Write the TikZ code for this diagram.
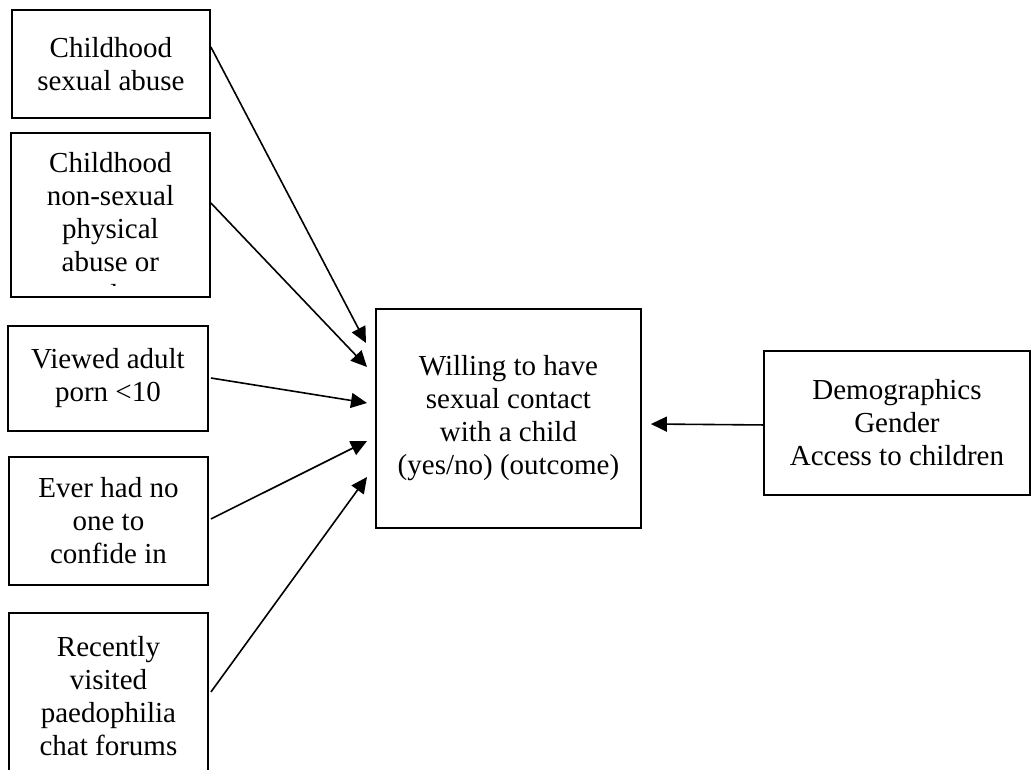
\documentclass[tikz,border=0pt]{standalone}
\usepackage{fontspec}
\setmainfont{Liberation Serif}
\usetikzlibrary{arrows.meta,calc}

\tikzset{
  box/.style={draw, line width=1.9pt, rectangle, inner sep=0pt, anchor=north west,
              align=center, font=\fontsize{29}{33}\selectfont},
  txt/.style={inner sep=0pt, align=center, font=\fontsize{29}{33}\selectfont},
  arr/.style={line width=1.6pt, -{Triangle[length=16pt,width=15pt]}}
}

\begin{document}
\begin{tikzpicture}[x=1pt,y=-1pt]
  \useasboundingbox (0,0) rectangle (1032,769);
  \clip (0,0) rectangle (1032,769);

  % predictor boxes on the left
  \node[box, minimum width=198pt, minimum height=108pt] (b1) at (11,9)
    {Childhood\\sexual abuse};
  \node[box, minimum width=199pt, minimum height=164pt] (b2) at (10,132) {};
  \node[box, minimum width=200pt, minimum height=105pt] (b3) at (7,325)
    {Viewed adult\\porn <10};
  \node[box, minimum width=199pt, minimum height=128pt] (b4) at (8,456)
    {Ever had no\\one to\\confide in};
  \node[box, minimum width=199pt, minimum height=166pt] (b5) at (8,612)
    {Recently\\visited\\paedophilia\\chat forums};

  % overflowing text of the second box, cut off at its lower edge
  \begin{scope}
    \clip (b2.north west) rectangle ($(b2.south east)+(0,-12)$);
    \node[txt, anchor=north] (b2t) at ($(b2.north)+(0,20)$)
      {Childhood\\non-sexual\\physical\\abuse or\\neglect};
  \end{scope}

  % outcome and covariates
  \node[box, minimum width=265pt, minimum height=219pt] (c) at (375,308)
    {Willing to have\\sexual contact\\with a child\\(yes/no) (outcome)};
  \node[box, minimum width=266pt, minimum height=144pt] (d) at (763,350)
    {Demographics\\Gender\\Access to children};

  % connectors
  \draw[arr] (b1.north east) ++(0,38) -- ($(c.north west)+(-9,35)$);
  \draw[arr] (b2.north east) ++(0,71) -- ($(c.north west)+(-8,59)$);
  \draw[arr] (b3.north east) ++(2,53) -- ($(c.north west)+(-8,95)$);
  \draw[arr] (b4.north east) ++(2,63) -- ($(c.north west)+(-8,133)$);
  \draw[arr] (b5.north east) ++(2,80) -- ($(c.north west)+(-8,169)$);
  \draw[arr] (d.west) ++(0,2) -- ($(c.north east)+(9,116)$);
\end{tikzpicture}
\end{document}
